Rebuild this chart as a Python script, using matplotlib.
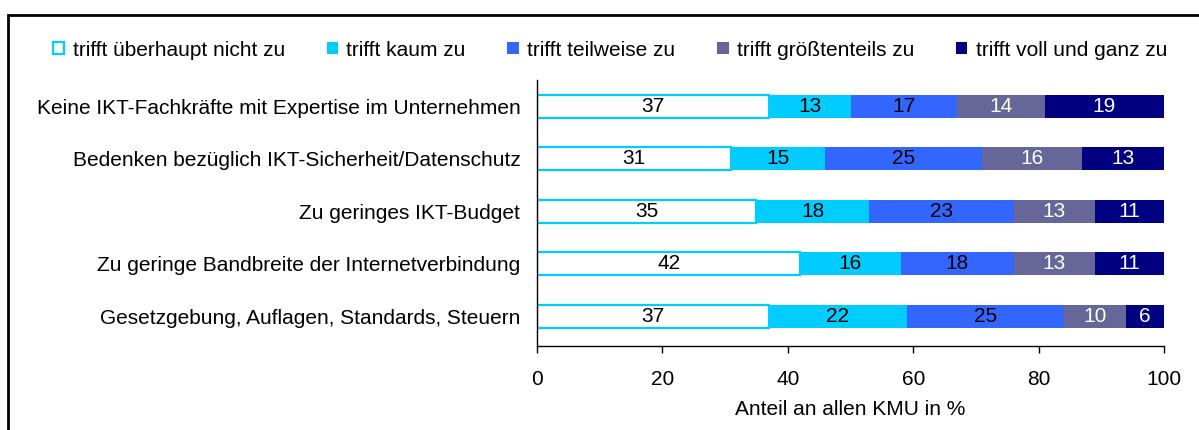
import numpy as np
import matplotlib.pyplot as plt
from matplotlib.patches import Rectangle

plt.rcParams['font.family'] = ['Liberation Sans', 'DejaVu Sans']

categories = ['Keine IKT-Fachkräfte mit Expertise im Unternehmen',
              'Bedenken bezüglich IKT-Sicherheit/Datenschutz',
              'Zu geringes IKT-Budget',
              'Zu geringe Bandbreite der Internetverbindung',
              'Gesetzgebung, Auflagen, Standards, Steuern']
series = ['trifft überhaupt nicht zu', 'trifft kaum zu', 'trifft teilweise zu',
          'trifft größtenteils zu', 'trifft voll und ganz zu']
ueberhaupt_nicht = [37, 31, 35, 42, 37]
kaum = [13, 15, 18, 16, 22]
teilweise = [17, 25, 23, 18, 25]
groesstenteils = [14, 16, 13, 13, 10]
voll = [19, 13, 11, 11, 6]
xticks = [0, 20, 40, 60, 80, 100]

values = [ueberhaupt_nicht, kaum, teilweise, groesstenteils, voll]
faces = ['white', '#00CCFF', '#3366FF', '#666699', '#000080']
edges = ['#00CCFF', 'none', 'none', 'none', 'none']
txtcol = ['black', 'black', 'black', 'white', 'white']
fs = 15

fig = plt.figure(figsize=(11.99, 4.30), dpi=100)
ax = fig.add_axes([537 / 1199, 1 - 346 / 430, 627 / 1199, 266 / 430])

y = np.arange(len(categories))[::-1]
left = np.zeros(len(categories))
handles = []
for vals, fc, ec, tc, name in zip(values, faces, edges, txtcol, series):
    vals = np.array(vals, dtype=float)
    bars = ax.barh(y, vals, left=left, height=0.44, color=fc, edgecolor=ec,
                   linewidth=1.6, label=name)
    handles.append(bars)
    for yi, l, v in zip(y, left, vals):
        ax.text(l + v / 2, yi, '%d' % v, ha='center', va='center', color=tc, fontsize=fs)
    left += vals

ax.set_xlim(0, 100)
ax.set_ylim(-0.57, 4.5)
ax.set_xticks(xticks)
ax.set_yticks(y)
ax.set_yticklabels(categories, fontsize=fs)
ax.tick_params(axis='y', length=0, pad=12)
ax.tick_params(axis='x', length=5, width=1, direction='out', labelsize=fs, pad=12)
ax.spines['top'].set_visible(False)
ax.spines['right'].set_visible(False)
ax.spines['left'].set_linewidth(1)
ax.spines['bottom'].set_linewidth(1)
ax.set_xlabel('Anteil an allen KMU in %', fontsize=fs, labelpad=8)

fig.legend(handles=handles, loc='center', bbox_to_anchor=(610 / 1199, 1 - 50 / 430),
           ncol=5, frameon=False, fontsize=fs, handlelength=0.55, handleheight=0.55,
           handletextpad=0.4, columnspacing=2.0)

fig.patches.append(Rectangle((8 / 1199, -0.05), 1.1, 1 - 15 / 430 + 0.05,
                             transform=fig.transFigure, fill=False,
                             edgecolor='black', linewidth=2))

fig.savefig('out.png', dpi=100)
